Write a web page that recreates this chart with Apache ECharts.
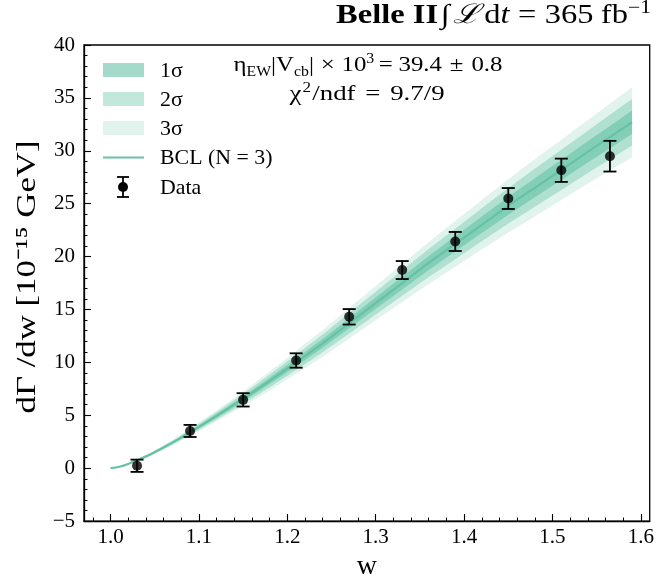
<!DOCTYPE html>
<html><head><meta charset="utf-8">
<script src="https://cdn.jsdelivr.net/npm/echarts@6/dist/echarts.min.js"></script>
<style>html,body{margin:0;padding:0;background:#fff}#c{width:657px;height:586px}</style>
</head><body><div id="c"></div>
<script>
// ---- data ----
const wData = [1.03, 1.09, 1.15, 1.21, 1.27, 1.33, 1.39, 1.45, 1.51, 1.565];
const yData = [0.23, 3.52, 6.46, 10.18, 14.31, 18.73, 21.43, 25.49, 28.16, 29.49];
const yErr  = [0.58, 0.57, 0.63, 0.68, 0.73, 0.85, 0.90, 0.99, 1.10, 1.45];

const wCurve   = [1.00, 1.01, 1.02, 1.03, 1.045, 1.06, 1.075, 1.09, 1.12, 1.15, 1.18, 1.21, 1.24, 1.27, 1.30, 1.33, 1.36, 1.39, 1.42, 1.45, 1.48, 1.51, 1.54, 1.565, 1.59];
const fitCurve = [0.00, 0.14, 0.40, 0.75, 1.30, 1.95, 2.65, 3.40, 4.95, 6.55, 8.25, 10.0, 11.8, 13.7, 15.6, 17.5, 19.4, 21.2, 23.0, 24.8, 26.5, 28.2, 29.9, 31.3, 32.7];
const sigma1   = [0.00, 0.005, 0.015, 0.03, 0.05, 0.07, 0.09, 0.12, 0.17, 0.23, 0.30, 0.36, 0.42, 0.48, 0.54, 0.60, 0.66, 0.72, 0.78, 0.84, 0.90, 0.95, 1.00, 1.05, 1.10];

const xMajorTicks = [1.0, 1.1, 1.2, 1.3, 1.4, 1.5, 1.6];
const yTickValues = [-5, 0, 5, 10, 15, 20, 25, 30, 35, 40];
const legendNames = ['1σ', '2σ', '3σ', 'BCL (N = 3)', 'Data'];
const yAxisTitle = 'dΓ /dw [10⁻¹⁵ GeV]';
const xAxisTitle = 'w';

// ---- styling ----
const GREEN = '#66c2a5';
const FONT = 'Liberation Serif';
const bandAlpha = {1: 0.6, 2: 0.4, 3: 0.2};

const xMinorTicks = [];
for (let i = 0; i <= 32; i++) {
  const v = +(0.98 + i * 0.02).toFixed(2);
  if (v > 1.605) break;
  if (!xMajorTicks.some(m => Math.abs(m - v) < 1e-6)) xMinorTicks.push(v);
}

function bandSeries(k) {
  const pts = wCurve.map((w, i) => [w, fitCurve[i] - k * sigma1[i], fitCurve[i] + k * sigma1[i]]);
  return {
    type: 'custom', name: k + 'σ', z: 1 + (3 - k),
    clip: true,
    data: pts,
    encode: {x: 0, y: [1, 2]},
    renderItem: function (params, api) {
      if (params.dataIndex !== 0) return null;
      const up = pts.map(p => api.coord([p[0], p[2]]));
      const lo = pts.map(p => api.coord([p[0], p[1]])).reverse();
      return {
        type: 'polygon',
        shape: {points: up.concat(lo)},
        style: {fill: GREEN, opacity: bandAlpha[k]}
      };
    }
  };
}

const chart = echarts.init(document.getElementById('c'), null, {renderer: 'canvas'});

// text layout helper (horizontal run of text pieces, optionally stretched to a target width)
const mctx = document.createElement('canvas').getContext('2d');
function measure(t, size, weight, style) {
  mctx.font = (style || 'normal') + ' ' + (weight || 'normal') + ' ' + size + 'px "' + FONT + '"';
  return mctx.measureText(t).width;
}
function runText(segs, x, baseY, align, targetW) {
  let total = 0;
  segs.forEach(s => { s.w = measure(s.t, s.size, s.weight, s.style) + (s.gap || 0); total += s.w; });
  let sx = 1;
  if (targetW) sx = Math.min(1.22, Math.max(0.9, targetW / total));
  total *= sx;
  let cx = align === 'right' ? x - total : align === 'center' ? x - total / 2 : x;
  const out = [];
  segs.forEach(s => {
    out.push({
      type: 'text', x: cx, y: baseY - 0.34 * s.size + (s.dy || 0), z: 100, scaleX: sx,
      style: {text: s.t, fontSize: s.size, fontFamily: FONT, fontWeight: s.weight || 'normal',
              fontStyle: s.style || 'normal', fill: '#000', verticalAlign: 'middle', align: 'left'}
    });
    cx += s.w * sx;
  });
  return out;
}

const graphics = [];
// Title
graphics.push(...runText([
  {t: 'Belle II', size: 27, weight: 'bold', gap: 2},
  {t: '∫', size: 27, gap: 3},
  {t: 'ℒ', size: 27, style: 'italic', gap: 4},
  {t: 'd', size: 27},
  {t: 't', size: 27, style: 'italic', gap: 7},
  {t: '=', size: 27, gap: 7},
  {t: '365', size: 27, gap: 6},
  {t: 'fb', size: 27},
  {t: '−1', size: 18, dy: -11}
], 651, 25, 'right', 315));
// Fit annotation
graphics.push(...runText([
  {t: 'η', size: 22},
  {t: 'EW', size: 14, dy: 4},
  {t: '|V', size: 22},
  {t: 'cb', size: 14, dy: 4},
  {t: '|', size: 22, gap: 6},
  {t: '×', size: 22, gap: 6},
  {t: '10', size: 22},
  {t: '3', size: 14, dy: -9, gap: 4},
  {t: '=', size: 22, gap: 5},
  {t: '39.4', size: 22, gap: 7},
  {t: '±', size: 22, gap: 7},
  {t: '0.8', size: 22}
], 368, 73, 'center', 269));
graphics.push(...runText([
  {t: 'χ', size: 22, gap: 1},
  {t: '2', size: 14, dy: -9, gap: 1},
  {t: '/ndf', size: 22, gap: 8},
  {t: '=', size: 22, gap: 8},
  {t: '9.7/9', size: 22}
], 367, 102, 'center', 157));

// y-axis title (rotated, stretched to the reference length)
const yTitleSize = 28;
const yTitleScale = Math.min(1.25, Math.max(0.9, 273 / measure(yAxisTitle, yTitleSize)));
graphics.push({type: 'text', z: 100, x: 28, y: 277, rotation: Math.PI / 2, scaleX: yTitleScale,
  style: {text: yAxisTitle, fontSize: yTitleSize, fontFamily: FONT, fill: '#000', align: 'center', verticalAlign: 'middle'}});

// Legend
const legY = [70, 99, 128, 157.5, 187];
[1, 2, 3].forEach((k, i) => {
  graphics.push({type: 'rect', z: 100, shape: {x: 103, y: legY[i] - 7, width: 41, height: 14},
    style: {fill: GREEN, opacity: bandAlpha[k]}});
});
graphics.push({type: 'line', z: 100, shape: {x1: 103, y1: legY[3], x2: 144, y2: legY[3]},
  style: {stroke: GREEN, lineWidth: 2.2}});
graphics.push({type: 'line', z: 100, shape: {x1: 123, y1: legY[4] - 10, x2: 123, y2: legY[4] + 10}, style: {stroke: '#000', lineWidth: 1.8}});
graphics.push({type: 'line', z: 100, shape: {x1: 117, y1: legY[4] - 10, x2: 129, y2: legY[4] - 10}, style: {stroke: '#000', lineWidth: 1.8}});
graphics.push({type: 'line', z: 100, shape: {x1: 117, y1: legY[4] + 10, x2: 129, y2: legY[4] + 10}, style: {stroke: '#000', lineWidth: 1.8}});
graphics.push({type: 'circle', z: 100, shape: {cx: 123, cy: legY[4], r: 5}, style: {fill: '#000'}});
legendNames.forEach((n, i) => {
  graphics.push({type: 'text', z: 100, x: 160, y: legY[i] + 1, scaleX: 1.04,
    style: {text: n, fontSize: 21, fontFamily: FONT, fill: '#000', verticalAlign: 'middle'}});
});

const ebData = wData.map((w, i) => [w, yData[i], yErr[i]]);

const option = {
  backgroundColor: '#fff',
  animation: false,
  grid: {left: 84, right: 4, top: 45, bottom: 57, show: true, borderColor: '#000', borderWidth: 1.3, backgroundColor: 'transparent'},
  xAxis: [{
    type: 'value', min: 0.97, max: 1.61, position: 'bottom',
    name: xAxisTitle, nameLocation: 'middle', nameGap: 26,
    nameTextStyle: {fontFamily: FONT, fontSize: 28, color: '#000'},
    axisLine: {show: true, onZero: false, lineStyle: {color: '#000', width: 1.3}},
    axisTick: {show: true, inside: true, length: 7, lineStyle: {color: '#000', width: 1.1}, customValues: xMajorTicks},
    axisLabel: {show: true, customValues: xMajorTicks, margin: 6, fontFamily: FONT, fontSize: 21, color: '#000',
      formatter: v => (+v).toFixed(1)},
    splitLine: {show: false}
  }, {
    type: 'value', min: 0.97, max: 1.61, position: 'bottom', offset: 0,
    axisLine: {show: false, onZero: false},
    axisTick: {show: true, inside: true, length: 3.5, lineStyle: {color: '#000', width: 1}, customValues: xMinorTicks},
    axisLabel: {show: false},
    splitLine: {show: false}
  }],
  yAxis: {
    type: 'value', min: -5, max: 40, interval: 5,
    axisLine: {show: true, onZero: false, lineStyle: {color: '#000', width: 1.3}},
    axisTick: {show: true, inside: true, length: 7, lineStyle: {color: '#000', width: 1.1}},
    minorTick: {show: true, splitNumber: 5, length: 3.5, lineStyle: {color: '#000', width: 1}},
    axisLabel: {margin: 9, fontFamily: FONT, fontSize: 21, color: '#000',
      formatter: v => v < 0 ? '−' + Math.abs(v) : String(v)},
    splitLine: {show: false}, minorSplitLine: {show: false}
  },
  series: [
    bandSeries(3), bandSeries(2), bandSeries(1),
    {
      type: 'line', name: 'BCL (N = 3)', z: 5, data: wCurve.map((w, i) => [w, fitCurve[i]]),
      showSymbol: false, smooth: 0.3, lineStyle: {color: GREEN, width: 2.2}, clip: true
    },
    {
      type: 'custom', name: 'errors', z: 8, data: ebData, encode: {x: 0, y: 1},
      renderItem: function (params, api) {
        const x = api.value(0), y = api.value(1), e = api.value(2);
        const top = api.coord([x, y + e]), bot = api.coord([x, y - e]);
        const cap = 6.5;
        return {type: 'group', children: [
          {type: 'line', shape: {x1: top[0], y1: top[1], x2: bot[0], y2: bot[1]}, style: {stroke: '#000', lineWidth: 1.8}},
          {type: 'line', shape: {x1: top[0] - cap, y1: top[1], x2: top[0] + cap, y2: top[1]}, style: {stroke: '#000', lineWidth: 1.8}},
          {type: 'line', shape: {x1: bot[0] - cap, y1: bot[1], x2: bot[0] + cap, y2: bot[1]}, style: {stroke: '#000', lineWidth: 1.8}}
        ]};
      }
    },
    {
      type: 'scatter', name: 'Data', z: 9, data: wData.map((w, i) => [w, yData[i]]),
      symbol: 'circle', symbolSize: 10, itemStyle: {color: '#000'}
    }
  ],
  graphic: graphics
};
chart.setOption(option);
</script>
</body></html>
